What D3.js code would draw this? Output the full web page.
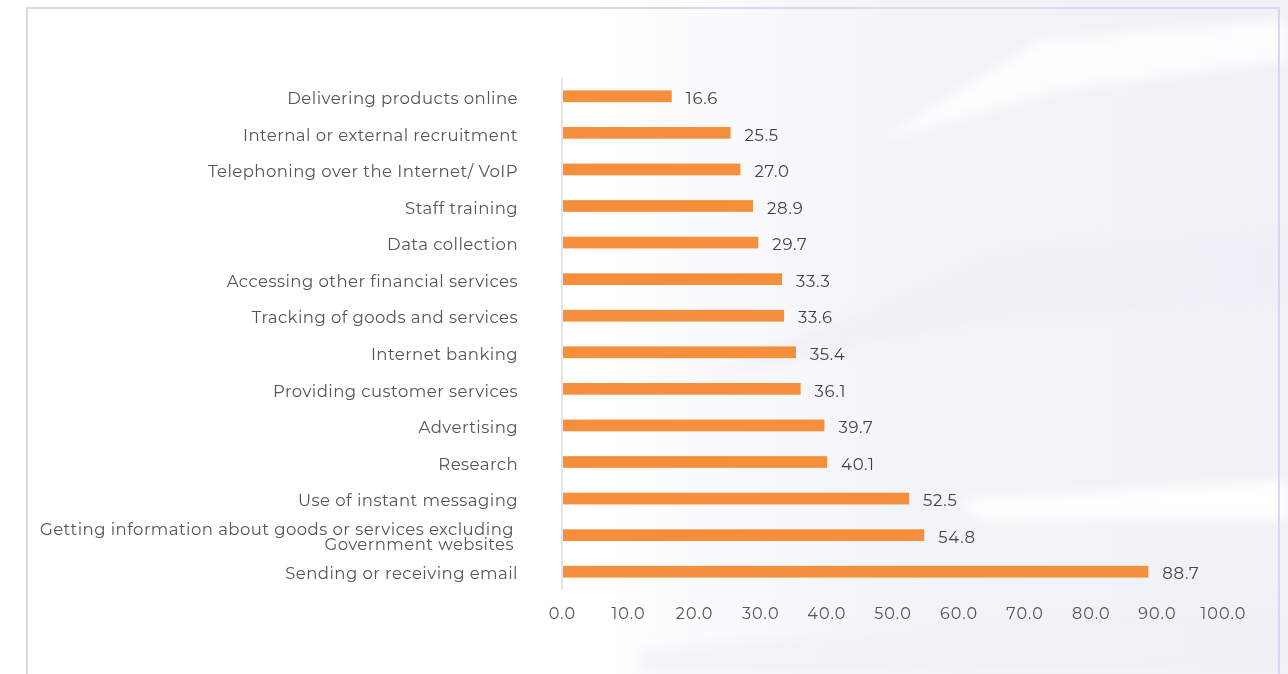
<!DOCTYPE html>
<html>
<head>
<meta charset="utf-8">
<script src="https://cdn.jsdelivr.net/npm/d3@7"></script>
<style>
  html, body { margin: 0; padding: 0; background: #ffffff; }
  svg { display: block; }
</style>
</head>
<body>
<div id="chart"></div>
<script>
// Share of businesses using the Internet for each activity (%)
const categories = [
  "Delivering products online",
  "Internal or external recruitment",
  "Telephoning over the Internet/ VoIP",
  "Staff training",
  "Data collection",
  "Accessing other financial services",
  "Tracking of goods and services",
  "Internet banking",
  "Providing customer services",
  "Advertising",
  "Research",
  "Use of instant messaging",
  "Getting information about goods or services excluding\nGovernment websites",
  "Sending or receiving email"
];
const values = [16.6, 25.5, 27.0, 28.9, 29.7, 33.3, 33.6, 35.4, 36.1, 39.7, 40.1, 52.5, 54.8, 88.7];
const xTicks = [0, 10, 20, 30, 40, 50, 60, 70, 80, 90, 100];

const W = 1288, H = 674;
const svg = d3.select("#chart").append("svg").attr("width", W).attr("height", H);

// soft backdrop
const defs = svg.append("defs");
const bg = defs.append("linearGradient").attr("id", "bg").attr("x1", 0).attr("x2", 1).attr("y1", 0).attr("y2", 0);
bg.append("stop").attr("offset", "0").attr("stop-color", "#ffffff");
bg.append("stop").attr("offset", "0.45").attr("stop-color", "#ffffff");
bg.append("stop").attr("offset", "0.7").attr("stop-color", "#f3f4f8");
bg.append("stop").attr("offset", "1").attr("stop-color", "#f1f2f8");
const blur = defs.append("filter").attr("id", "soft").attr("x", "-20%").attr("y", "-20%").attr("width", "140%").attr("height", "140%");
blur.append("feGaussianBlur").attr("stdDeviation", 6);

svg.append("rect").attr("x", 0).attr("y", 0).attr("width", W).attr("height", H).attr("fill", "url(#bg)");
const deco = svg.append("g").attr("filter", "url(#soft)");
deco.append("path").attr("d", "M880,140 L1040,40 L1288,20 L1288,60 L1060,90 Z").attr("fill", "#ffffff").attr("opacity", 0.8);
deco.append("path").attr("d", "M700,380 L1000,250 L1288,230 L1288,300 L1000,320 Z").attr("fill", "#eef0f7").attr("opacity", 0.7);
deco.append("path").attr("d", "M960,500 L1288,480 L1288,520 L980,520 Z").attr("fill", "#ffffff").attr("opacity", 0.9);
deco.append("path").attr("d", "M640,650 L1288,600 L1288,674 L640,674 Z").attr("fill", "#f0f1f6").attr("opacity", 0.7);

// frame
svg.append("path")
  .attr("d", "M27,674 L27,8 L1279,8 L1279,674")
  .attr("fill", "none").attr("stroke", "#d9d9ee").attr("stroke-width", 2);

const x = d3.scaleLinear().domain([0, 100]).range([562, 1223]);
const y = d3.scaleBand().domain(categories).range([78, 590]).paddingInner(0.68).paddingOuter(0.34);

const font = "Montserrat, Lato, sans-serif";

// x axis labels
const xAxis = d3.axisBottom(x).tickValues(xTicks).tickFormat(d3.format(".1f")).tickSize(0).tickPadding(0);
const gx = svg.append("g").attr("transform", "translate(0,608)").call(xAxis);
gx.select(".domain").remove();
gx.selectAll("text").attr("font-family", font).attr("font-size", 16).attr("letter-spacing", "1.1px")
  .attr("fill", "#555").attr("dy", "0.71em");

// y axis line
svg.append("line").attr("x1", x(0)).attr("x2", x(0)).attr("y1", 78).attr("y2", 590)
  .attr("stroke", "#d4d4d4").attr("stroke-width", 1.2);

// category labels
const labels = svg.append("g");
categories.forEach(c => {
  const lines = c.split("\n");
  const cy = y(c) + y.bandwidth() / 2 + 2;
  const lx = lines.length > 1 ? 514 : 518;
  const t = labels.append("text")
    .attr("x", lx)
    .attr("text-anchor", "end")
    .attr("font-family", font).attr("font-size", 16.5).attr("letter-spacing", "0.45px").attr("fill", "#555");
  const lh = 15;
  lines.forEach((ln, i) => {
    t.append("tspan").attr("x", lx)
      .attr("y", cy + (i - (lines.length - 1) / 2) * lh)
      .attr("dy", "0.35em").text(ln);
  });
});

// bars
svg.append("g").selectAll("rect").data(values).join("rect")
  .attr("x", x(0) + 1)
  .attr("y", (d, i) => y(categories[i]))
  .attr("width", d => x(d) - x(0) - 1)
  .attr("height", y.bandwidth())
  .attr("fill", "#f68f3b");

// value labels
svg.append("g").selectAll("text").data(values).join("text")
  .attr("x", d => x(d) + 14)
  .attr("y", (d, i) => y(categories[i]) + y.bandwidth() / 2 + 2)
  .attr("dy", "0.35em")
  .attr("font-family", font).attr("font-size", 16.5).attr("letter-spacing", "0.7px").attr("fill", "#444")
  .text(d => d.toFixed(1));
</script>
</body>
</html>
